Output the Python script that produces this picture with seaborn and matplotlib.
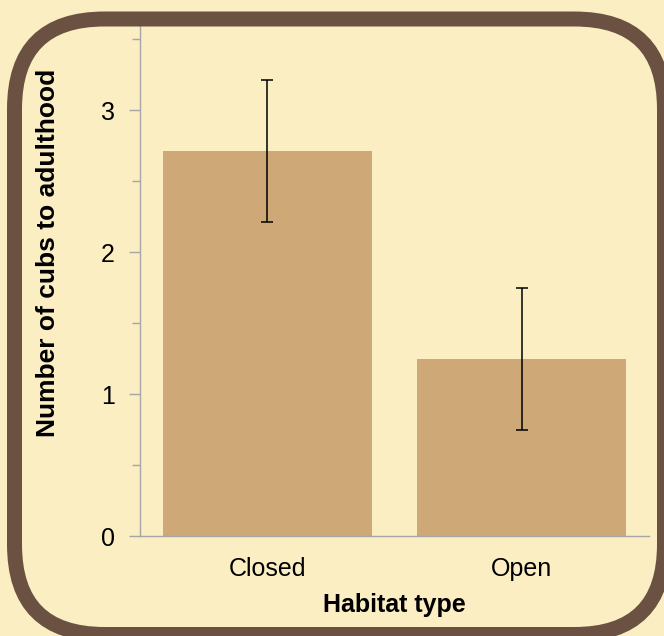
import matplotlib
matplotlib.use("Agg")
import matplotlib.pyplot as plt
import seaborn as sns
import pandas as pd
from matplotlib.patches import FancyBboxPatch
from matplotlib.transforms import IdentityTransform
from matplotlib.ticker import MultipleLocator

habitats = ["Closed", "Open"]
cubs = [2.71, 1.25]
errors = [0.5, 0.5]

BG = "#FBEEC3"
BAR = "#CFA878"
BORDER = "#6A5141"
AXIS = "#A6A6A6"

sns.set_theme(style="white")
plt.rcParams["font.family"] = ["Liberation Sans", "DejaVu Sans"]

W, H = 664, 636
fig = plt.figure(figsize=(W / 100, H / 100), dpi=100, facecolor=BG)
ax_l, ax_r, ax_t, ax_b = 140, 649, 25, 536
ax = fig.add_axes([ax_l / W, (H - ax_b) / H, (ax_r - ax_l) / W, (ax_b - ax_t) / H])
ax.set_facecolor(BG)

df = pd.DataFrame({"habitat": habitats, "cubs": cubs})
sns.barplot(data=df, x="habitat", y="cubs", color=BAR, saturation=1,
            width=0.82, errorbar=None, linewidth=0, ax=ax)
ax.errorbar(x=range(len(habitats)), y=cubs, yerr=errors, fmt="none",
            ecolor="black", elinewidth=1.1, capsize=4, capthick=1.1)

ax.set_xlim(-0.5, 1.5)
ax.set_ylim(0, 3.6)
ax.yaxis.set_major_locator(MultipleLocator(1))
ax.yaxis.set_minor_locator(MultipleLocator(0.5))
for s in ["top", "right"]:
    ax.spines[s].set_visible(False)
for s in ["left", "bottom"]:
    ax.spines[s].set_color(AXIS)
    ax.spines[s].set_linewidth(1.0)
ax.tick_params(axis="y", which="major", length=8, width=1, color=AXIS,
               labelsize=18, pad=10, left=True, labelcolor="black")
ax.tick_params(axis="y", which="minor", length=6, width=1, color=AXIS, left=True)
ax.tick_params(axis="x", length=0, labelsize=18, pad=15, labelcolor="black")

ax.set_xlabel("Habitat type", fontsize=18, fontweight="bold", color="black",
              va="center", ha="center")
ax.set_ylabel("Number of cubs to adulthood", fontsize=19, fontweight="bold",
              color="black", va="center", ha="center")
ax.xaxis.set_label_coords(0.5, (ax_b - 605) / (ax_b - ax_t))
ax.yaxis.set_label_coords((48 - ax_l) / (ax_r - ax_l), (ax_b - 253) / (ax_b - ax_t))

border = FancyBboxPatch((14.5, 1.5), 664.5 - 14.5, 617 - 1.5,
                        boxstyle="round,pad=0,rounding_size=90",
                        transform=IdentityTransform(), facecolor="none",
                        edgecolor=BORDER, linewidth=15 * 72 / 100, zorder=10)
fig.patches.append(border)

fig.savefig("out.png", dpi=100, facecolor=BG)
